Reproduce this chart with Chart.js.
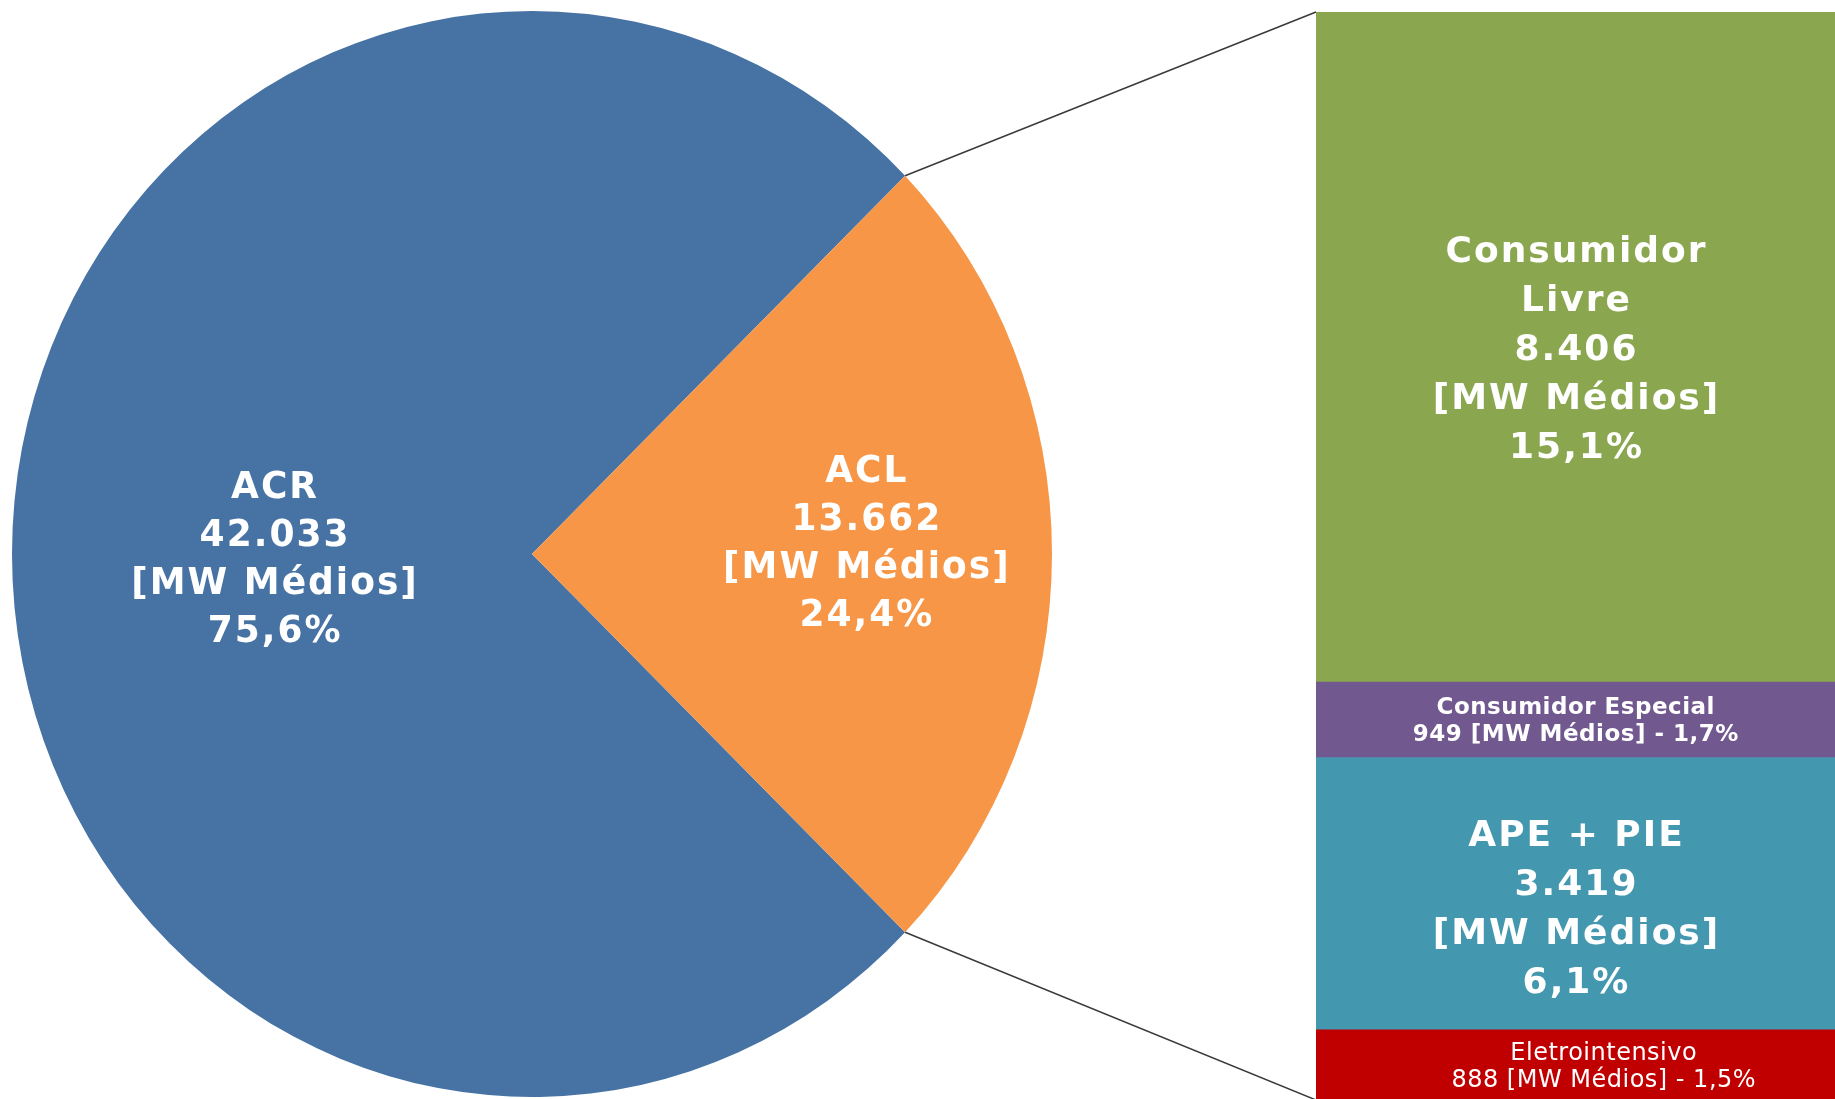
<!DOCTYPE html>
<html>
<head>
<meta charset="utf-8">
<script src="https://cdn.jsdelivr.net/npm/chart.js@4.4.1/dist/chart.umd.min.js"></script>
<style>
  html, body { margin: 0; padding: 0; background: #fff; overflow: hidden; }
  #stage { position: relative; width: 1835px; height: 1099px; overflow: hidden; }
  #pieChart { position: absolute; left: 12px; top: 11px; }
  #barChart { position: absolute; left: 1316px; top: 12px; }
  #links { position: absolute; left: 0; top: 0; }
</style>
</head>
<body>
<div id="stage">
  <canvas id="pieChart" width="1040" height="1086"></canvas>
  <canvas id="barChart" width="519" height="1088"></canvas>
  <canvas id="links" width="1835" height="1099"></canvas>
</div>
<script>
// market split [MW médios]
const pieLabels = ['ACR', 'ACL'];
const pieValues = [42033, 13662];
const piePercents = ['75,6%', '24,4%'];
const pieColors = ['#4672A4', '#F69646'];

// ACL breakdown, top to bottom
const aclLabels = ['Consumidor Livre', 'Consumidor Especial', 'APE + PIE', 'Eletrointensivo'];
const aclValues = [8406, 949, 3419, 888];
const aclPercents = ['15,1%', '1,7%', '6,1%', '1,5%'];
const aclColors = ['#8AA74F', '#71588F', '#4397AF', '#C00000'];

const unit = '[MW Médios]';
const family = '"DejaVu Sans", Verdana, sans-serif';

// label placement (not data)
const pieLabelRadius = [0.496, 0.642];
const pieLabelShift = [2, -13];
const barLabelStyle = ['big', 'smallBold', 'big', 'small'];
const barLabelShift = [[0, 0], [0, 0], [0, 13], [28, 0]];

const fmt = v => String(v).replace(/\B(?=(\d{3})+(?!\d))/g, '.');

function drawBlock(ctx, lines, cx, cy, weight, size, lh, spacing) {
  ctx.save();
  ctx.font = weight + ' ' + size + 'px ' + family;
  ctx.letterSpacing = spacing + 'px';
  ctx.fillStyle = '#ffffff';
  ctx.textAlign = 'center';
  ctx.textBaseline = 'alphabetic';
  const cap = size * 0.73;
  const first = cy - ((lines.length - 1) * lh - cap) / 2;
  lines.forEach((t, k) => ctx.fillText(t, cx + spacing / 2, first + k * lh));
  ctx.restore();
}

// the source pie is a little taller than wide: draw the square chart area stretched to the canvas
const stretch = {
  id: 'stretch',
  beforeDraw(chart) {
    chart.ctx.save();
    chart.ctx.scale(1, chart.height / chart.chartArea.height);
  },
  afterDraw(chart) {
    chart.ctx.restore();
  }
};

const pieText = {
  id: 'pieText',
  afterDatasetsDraw(chart) {
    chart.getDatasetMeta(0).data.forEach((arc, i) => {
      const mid = (arc.startAngle + arc.endAngle) / 2;
      const r = arc.outerRadius * pieLabelRadius[i];
      const x = arc.x + Math.cos(mid) * r;
      const y = arc.y + Math.sin(mid) * r + pieLabelShift[i];
      drawBlock(chart.ctx, [pieLabels[i], fmt(pieValues[i]), unit, piePercents[i]], x, y, 'bold', 36, 46, 2);
    });
  }
};

const barText = {
  id: 'barText',
  afterDatasetsDraw(chart) {
    const ctx = chart.ctx;
    aclLabels.forEach((name, i) => {
      const bar = chart.getDatasetMeta(i).data[0];
      const cx = bar.x + barLabelShift[i][0];
      const cy = (bar.y + bar.base) / 2 + barLabelShift[i][1];
      if (barLabelStyle[i] === 'big') {
        ctx.font = 'bold 36px ' + family;
        const nameLines = ctx.measureText(name).width > bar.width * 0.5 ? name.split(' ') : [name];
        drawBlock(ctx, [...nameLines, fmt(aclValues[i]), unit, aclPercents[i]], cx, cy, 'bold', 36, 49, 2);
      } else {
        const second = fmt(aclValues[i]) + ' ' + unit + ' - ' + aclPercents[i];
        const bold = barLabelStyle[i] === 'smallBold';
        drawBlock(ctx, [name, second], cx, cy, bold ? 'bold' : 'normal', bold ? 23 : 24, 27, 0.5);
      }
    });
  }
};

const pieTotal = pieValues.reduce((a, b) => a + b, 0);
const aclTotal = aclValues.reduce((a, b) => a + b, 0);

const pieChart = new Chart(document.getElementById('pieChart'), {
  type: 'pie',
  data: {
    labels: pieLabels,
    datasets: [{ data: pieValues, backgroundColor: pieColors, borderWidth: 0 }]
  },
  options: {
    responsive: false,
    animation: false,
    layout: { padding: { bottom: 46 } },
    // centre the ACL slice on the right-hand side
    rotation: 90 + pieValues[1] / pieTotal * 180,
    plugins: { legend: { display: false }, tooltip: { enabled: false } }
  },
  plugins: [stretch, pieText]
});

const barChart = new Chart(document.getElementById('barChart'), {
  type: 'bar',
  data: {
    labels: ['ACL'],
    datasets: aclLabels.map((name, i) => ({
      label: name,
      data: [aclValues[i]],
      backgroundColor: aclColors[i],
      borderWidth: 0,
      barPercentage: 1,
      categoryPercentage: 1
    }))
  },
  options: {
    responsive: false,
    animation: false,
    plugins: { legend: { display: false }, tooltip: { enabled: false } },
    scales: {
      x: { display: false, stacked: true },
      y: { display: false, stacked: true, reverse: true, min: 0, max: aclTotal }
    }
  },
  plugins: [barText]
});

// connector lines from the ACL slice edges to the stacked bar
function drawLinks() {
  const ctx = document.getElementById('links').getContext('2d');
  const pieCanvas = pieChart.canvas;
  const barCanvas = barChart.canvas;
  const sy = pieChart.height / pieChart.chartArea.height;
  const arc = pieChart.getDatasetMeta(0).data[1];
  const topBar = barChart.getDatasetMeta(0).data[0];
  const lastBar = barChart.getDatasetMeta(aclValues.length - 1).data[0];
  const px = a => pieCanvas.offsetLeft + arc.x + Math.cos(a) * arc.outerRadius;
  const py = a => pieCanvas.offsetTop + (arc.y + Math.sin(a) * arc.outerRadius) * sy;
  const left = barCanvas.offsetLeft + topBar.x - topBar.width / 2;
  const top = barCanvas.offsetTop + Math.min(topBar.y, topBar.base);
  const bottom = barCanvas.offsetTop + Math.max(lastBar.y, lastBar.base);
  ctx.strokeStyle = '#3a3a3a';
  ctx.lineWidth = 1.5;
  ctx.beginPath();
  ctx.moveTo(px(arc.startAngle), py(arc.startAngle));
  ctx.lineTo(left, top);
  ctx.moveTo(px(arc.endAngle), py(arc.endAngle));
  ctx.lineTo(left, bottom);
  ctx.stroke();
}
drawLinks();
</script>
</body>
</html>
